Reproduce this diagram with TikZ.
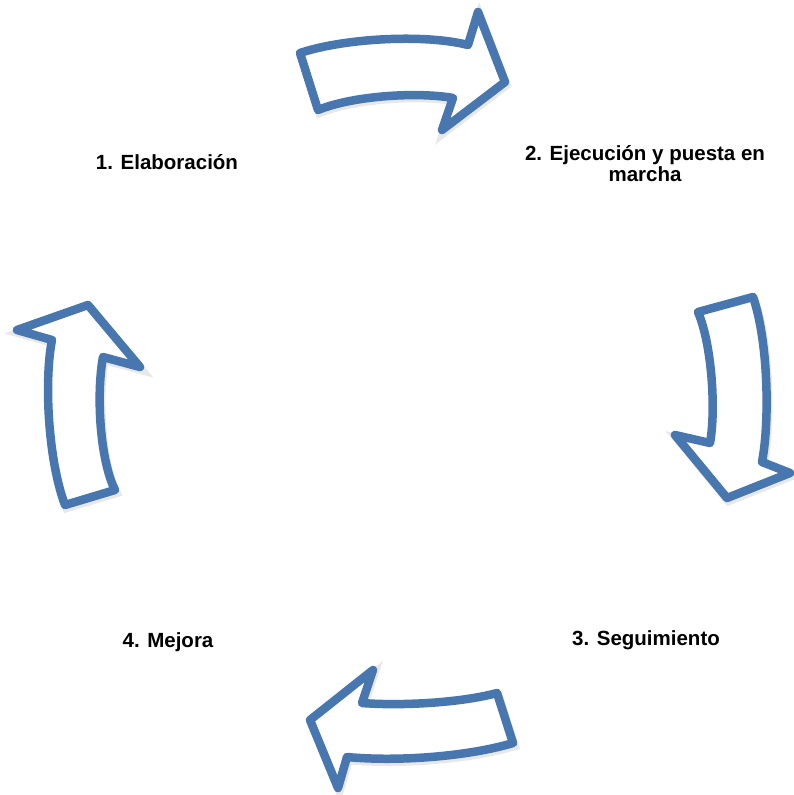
\documentclass[tikz,border=0pt]{standalone}
\usepackage{fontspec}
\setmainfont{Liberation Sans}
\usepackage{xcolor}
\usepackage{tikz}
\definecolor{cycblue}{RGB}{72,118,174}

\begin{document}
\begin{tikzpicture}[
x=1pt, y=-1pt,
lbl/.style={anchor=base, align=center, inner sep=0pt, font=\fontsize{20.5}{21}\selectfont\bfseries},
bigarr/.style={draw=cycblue, fill=white, line width=8.5pt, line join=round,
  preaction={draw=black!9, fill=black!9, line width=8.5pt, transform canvas={shift={(1.5,3)}}}}
]
\useasboundingbox (0,0) rectangle (794,795);
\node[lbl] (elab) at (167,169) {1. Elaboración};
\node[lbl] (ejec) at (645,181) {2. Ejecución y puesta en\\marcha};
\node[lbl] (segu) at (646,645) {3. Seguimiento};
\node[lbl] (mejo) at (168,647) {4. Mejora};
% top
\draw[bigarr] (300,53) .. controls (345,38) and (425,34) .. (468,45)
  -- (478,12) -- (505,82) -- (442,130) -- (453,98)
  .. controls (420,92) and (355,95) .. (318,110) -- cycle;
% right
\draw[bigarr] (698,312) -- (753,297) .. controls (768,340) and (770,420) .. (762,462)
  -- (790,473) -- (727,498) -- (675,435) -- (710,443)
  .. controls (716,410) and (712,345) .. cycle;
% bottom
\draw[bigarr] (497,693) -- (513,743) .. controls (470,756) and (400,762) .. (347,757)
  -- (338,788) -- (310,720) -- (373,670) -- (362,703)
  .. controls (400,706) and (460,703) .. cycle;
% left
\draw[bigarr] (65,505) -- (115,490) .. controls (100,460) and (96,395) .. (103,357)
  -- (140,367) -- (88,305) -- (17,330) -- (52,340)
  .. controls (44,380) and (48,460) .. cycle;
\end{tikzpicture}
\end{document}
